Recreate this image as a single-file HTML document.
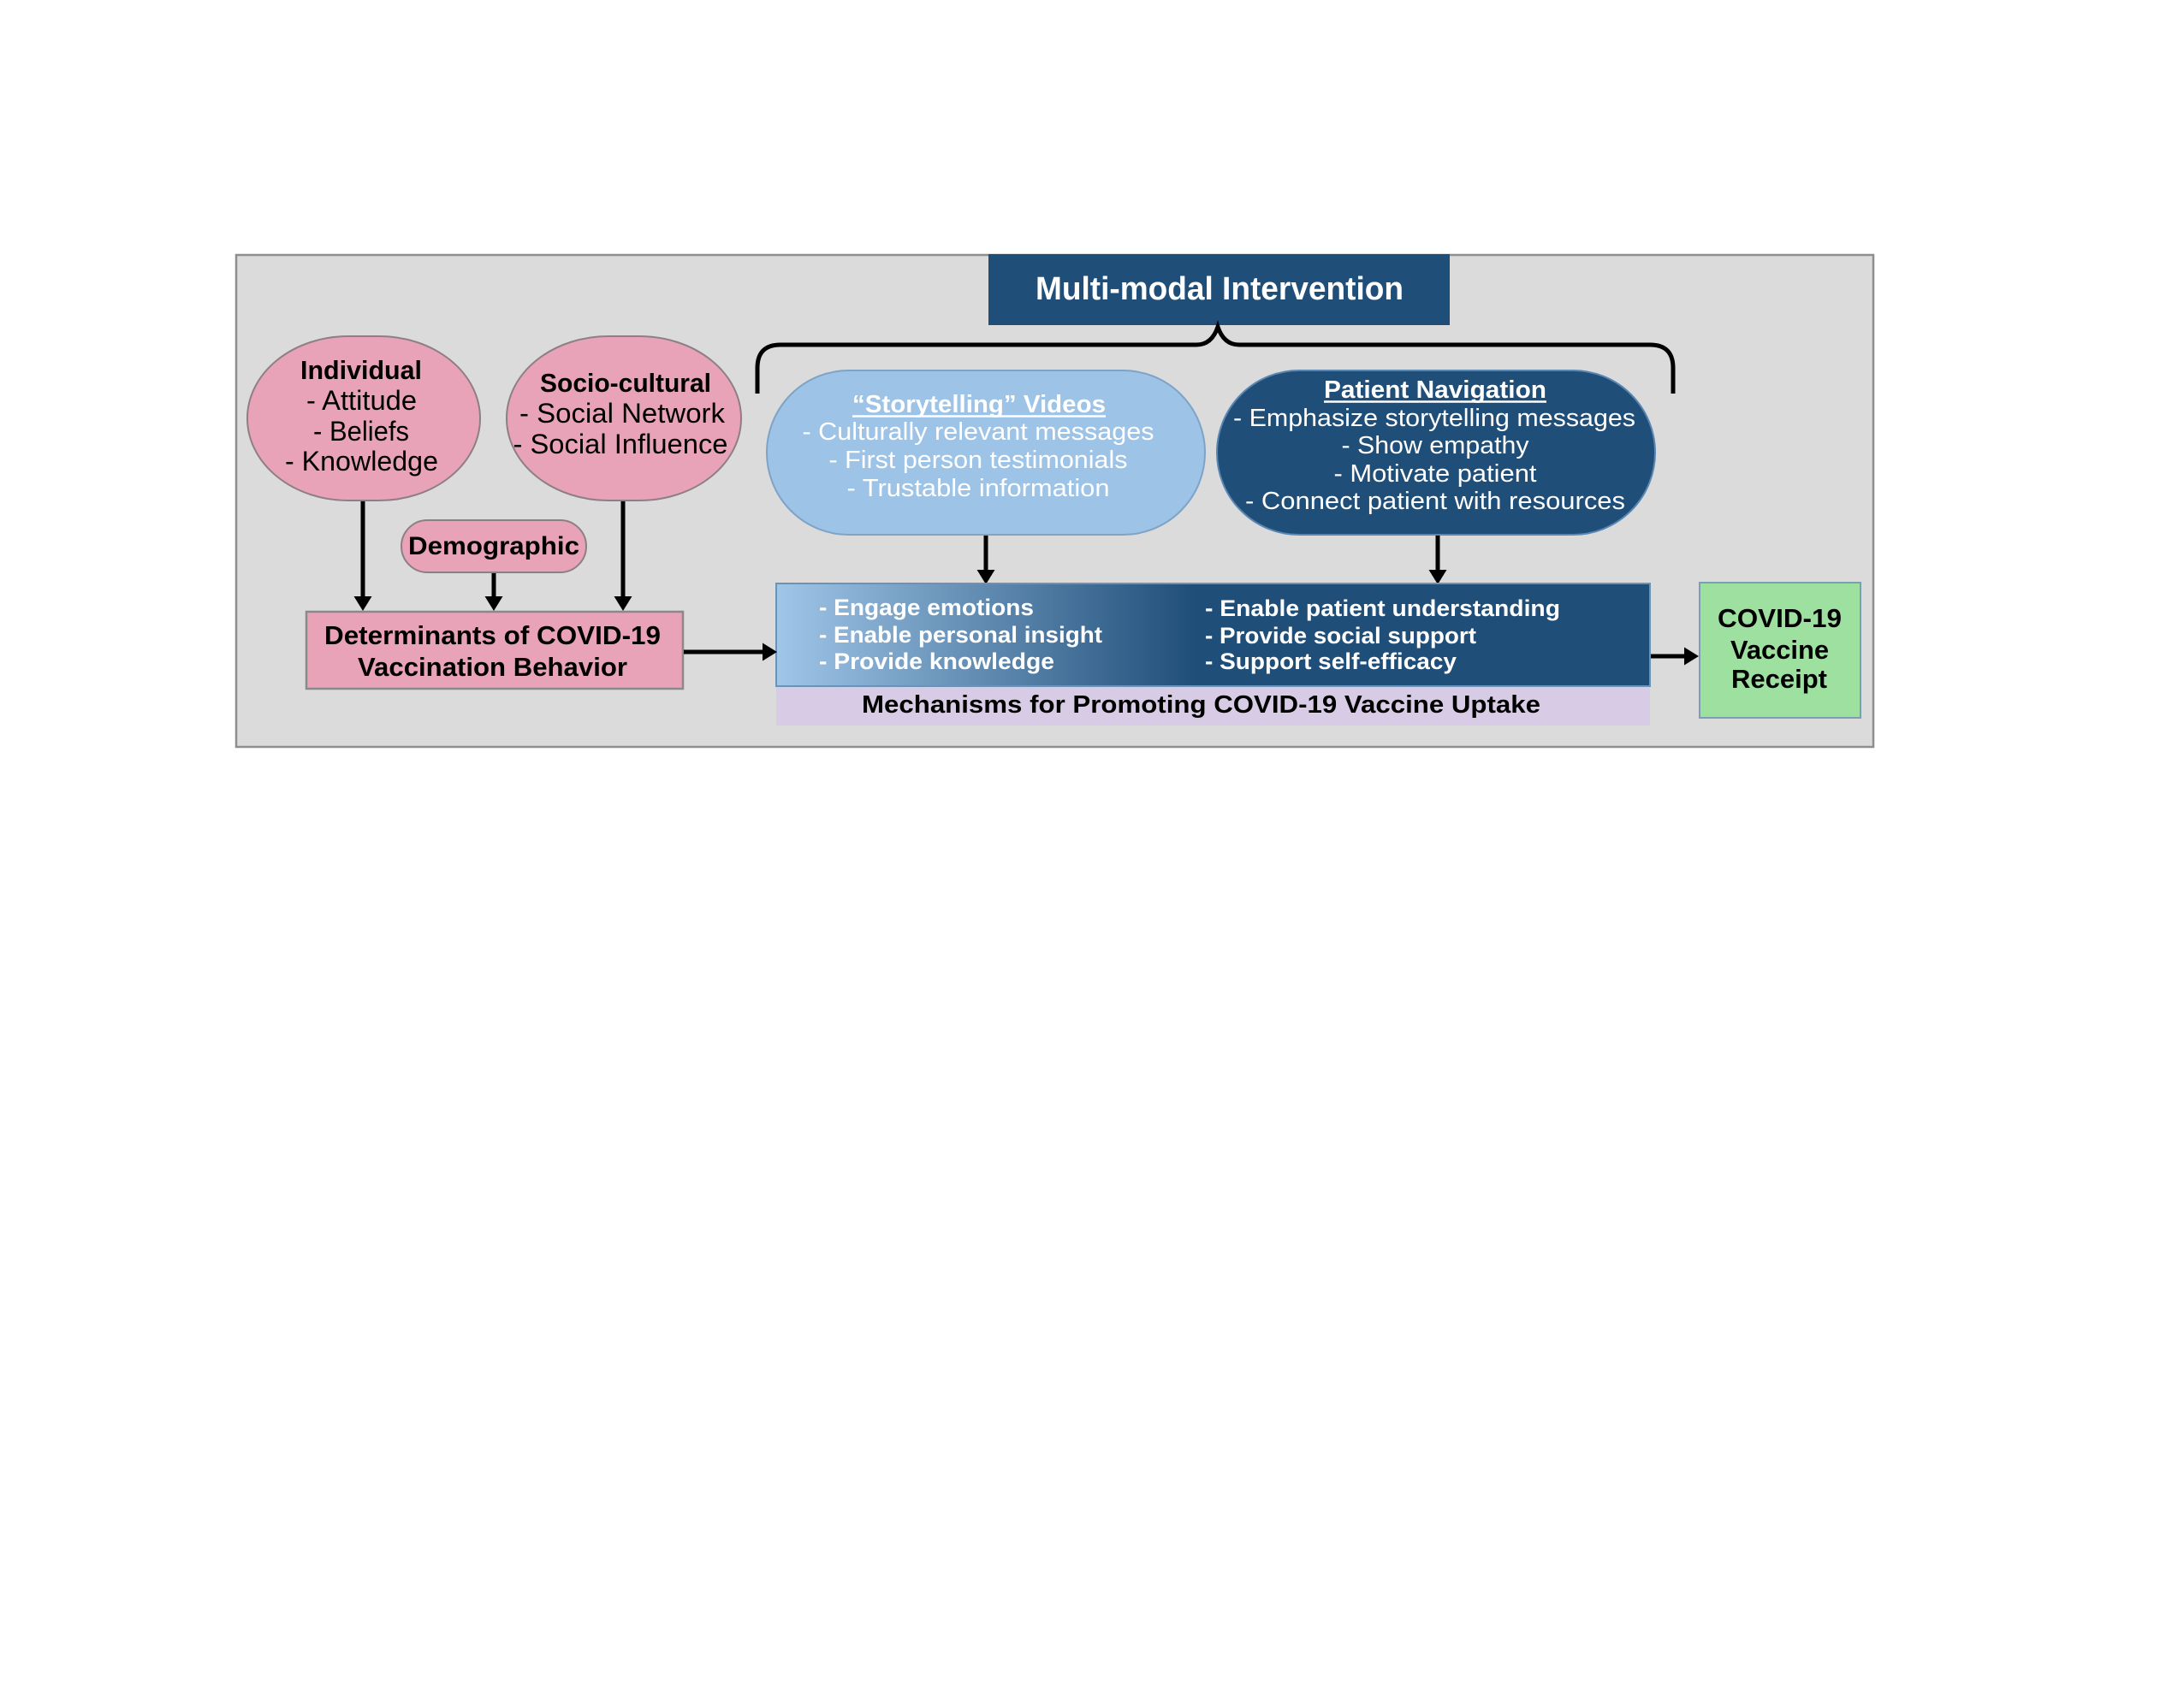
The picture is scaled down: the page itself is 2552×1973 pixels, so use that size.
<!DOCTYPE html>
<html>
<head>
<meta charset="utf-8">
<style>
  html,body{margin:0;padding:0;background:#ffffff;}
  body{width:2552px;height:1973px;overflow:hidden;position:relative;}
  svg{position:absolute;left:0;top:0;}
  text{font-family:"Liberation Sans", Arial, sans-serif;}
</style>
</head>
<body>
<svg width="2552" height="1973" viewBox="0 0 2552 1973" xmlns="http://www.w3.org/2000/svg">
  <defs>
    <linearGradient id="mech" x1="907" y1="0" x2="1928" y2="0" gradientUnits="userSpaceOnUse">
      <stop offset="0" stop-color="#a0c6e8"/>
      <stop offset="0.48" stop-color="#1f4e79"/>
      <stop offset="1" stop-color="#1f4e79"/>
    </linearGradient>
  </defs>

  <!-- outer panel -->
  <rect x="276" y="298" width="1913" height="575" fill="#dbdbdb" stroke="#8e8e8e" stroke-width="2.5"/>

  <!-- title box -->
  <rect x="1155" y="297" width="539" height="83" fill="#1f4e79"/>
  <text x="1425" y="350" font-size="38" font-weight="bold" fill="#ffffff" text-anchor="middle" textLength="430" lengthAdjust="spacingAndGlyphs">Multi-modal Intervention</text>

  <!-- brace -->
  <path d="M 885 460 V 430 Q 885 403 912 403 H 1398 Q 1416 403 1423 382 Q 1430 403 1448 403 H 1928 Q 1955 403 1955 430 V 460" fill="none" stroke="#000000" stroke-width="5"/>

  <!-- Individual -->
  <rect x="289" y="393" width="272" height="192" rx="118" ry="96" fill="#e8a3b8" stroke="#8d7f85" stroke-width="2"/>
  <text x="422" y="443" font-size="31" font-weight="bold" fill="#000" text-anchor="middle" textLength="142" lengthAdjust="spacingAndGlyphs">Individual</text>
  <text x="422.5" y="479" font-size="32" fill="#000" text-anchor="middle" textLength="129" lengthAdjust="spacingAndGlyphs">- Attitude</text>
  <text x="422" y="515" font-size="32" fill="#000" text-anchor="middle" textLength="112" lengthAdjust="spacingAndGlyphs">- Beliefs</text>
  <text x="422.5" y="550" font-size="32" fill="#000" text-anchor="middle" textLength="179" lengthAdjust="spacingAndGlyphs">- Knowledge</text>

  <!-- Socio-cultural -->
  <rect x="592" y="393" width="274" height="192" rx="119" ry="96" fill="#e8a3b8" stroke="#8d7f85" stroke-width="2"/>
  <text x="731" y="458" font-size="31" font-weight="bold" fill="#000" text-anchor="middle" textLength="200" lengthAdjust="spacingAndGlyphs">Socio-cultural</text>
  <text x="727" y="494" font-size="32" fill="#000" text-anchor="middle" textLength="240" lengthAdjust="spacingAndGlyphs">- Social Network</text>
  <text x="725" y="530" font-size="32" fill="#000" text-anchor="middle" textLength="251" lengthAdjust="spacingAndGlyphs">- Social Influence</text>

  <!-- Demographic -->
  <rect x="469" y="608" width="216" height="61" rx="30.5" ry="30.5" fill="#e8a3b8" stroke="#8d7f85" stroke-width="2"/>
  <text x="577" y="648" font-size="30" font-weight="bold" fill="#000" text-anchor="middle" textLength="200" lengthAdjust="spacingAndGlyphs">Demographic</text>

  <!-- Determinants -->
  <rect x="358" y="715" width="440" height="90" fill="#e8a3b8" stroke="#8a8a8a" stroke-width="2.5"/>
  <text x="575.5" y="753" font-size="31" font-weight="bold" fill="#000" text-anchor="middle" textLength="393" lengthAdjust="spacingAndGlyphs">Determinants of COVID-19</text>
  <text x="575.5" y="790" font-size="31" font-weight="bold" fill="#000" text-anchor="middle" textLength="315" lengthAdjust="spacingAndGlyphs">Vaccination Behavior</text>

  <!-- vertical arrows into Determinants -->
  <line x1="424" y1="586" x2="424" y2="699" stroke="#000" stroke-width="5"/>
  <polygon points="413.5,697 434.5,697 424,714" fill="#000"/>
  <line x1="577" y1="670" x2="577" y2="699" stroke="#000" stroke-width="5"/>
  <polygon points="566.5,697 587.5,697 577,714" fill="#000"/>
  <line x1="728" y1="586" x2="728" y2="699" stroke="#000" stroke-width="5"/>
  <polygon points="717.5,697 738.5,697 728,714" fill="#000"/>

  <!-- Storytelling pill -->
  <rect x="896" y="433" width="512" height="192" rx="96" ry="96" fill="#9dc3e6" stroke="#7ea3c6" stroke-width="2"/>
  <text x="1144" y="482" font-size="29" font-weight="bold" fill="#ffffff" text-anchor="middle" textLength="296" lengthAdjust="spacingAndGlyphs">“Storytelling” Videos</text>
  <line x1="996" y1="486.5" x2="1292" y2="486.5" stroke="#ffffff" stroke-width="2.5"/>
  <text x="1143" y="514" font-size="29" fill="#ffffff" text-anchor="middle" textLength="411" lengthAdjust="spacingAndGlyphs">- Culturally relevant messages</text>
  <text x="1143" y="547" font-size="29" fill="#ffffff" text-anchor="middle" textLength="349" lengthAdjust="spacingAndGlyphs">- First person testimonials</text>
  <text x="1143" y="580" font-size="29" fill="#ffffff" text-anchor="middle" textLength="307" lengthAdjust="spacingAndGlyphs">- Trustable information</text>

  <!-- Patient Navigation pill -->
  <rect x="1422" y="433" width="512" height="192" rx="96" ry="96" fill="#1f4e79" stroke="#5a86b2" stroke-width="2"/>
  <text x="1677" y="465" font-size="29" font-weight="bold" fill="#ffffff" text-anchor="middle" textLength="260" lengthAdjust="spacingAndGlyphs">Patient Navigation</text>
  <line x1="1547" y1="469.5" x2="1807" y2="469.5" stroke="#ffffff" stroke-width="2.5"/>
  <text x="1676" y="498" font-size="29" fill="#ffffff" text-anchor="middle" textLength="470" lengthAdjust="spacingAndGlyphs">- Emphasize storytelling messages</text>
  <text x="1677" y="530" font-size="29" fill="#ffffff" text-anchor="middle" textLength="219" lengthAdjust="spacingAndGlyphs">- Show empathy</text>
  <text x="1677" y="563" font-size="29" fill="#ffffff" text-anchor="middle" textLength="237" lengthAdjust="spacingAndGlyphs">- Motivate patient</text>
  <text x="1677" y="595" font-size="29" fill="#ffffff" text-anchor="middle" textLength="444" lengthAdjust="spacingAndGlyphs">- Connect patient with resources</text>

  <!-- arrows into mechanisms -->
  <line x1="1152" y1="626" x2="1152" y2="668" stroke="#000" stroke-width="5"/>
  <polygon points="1141.5,666 1162.5,666 1152,683" fill="#000"/>
  <line x1="1680" y1="626" x2="1680" y2="668" stroke="#000" stroke-width="5"/>
  <polygon points="1669.5,666 1690.5,666 1680,683" fill="#000"/>

  <!-- Mechanisms box -->
  <rect x="907" y="802" width="1021" height="46" fill="#d8cbe5"/>
  <rect x="907" y="682" width="1021" height="120" fill="url(#mech)" stroke="#6d92b8" stroke-width="2"/>
  <text x="957" y="719" font-size="27" font-weight="bold" fill="#ffffff" textLength="251" lengthAdjust="spacingAndGlyphs">- Engage emotions</text>
  <text x="957" y="751" font-size="27" font-weight="bold" fill="#ffffff" textLength="331" lengthAdjust="spacingAndGlyphs">- Enable personal insight</text>
  <text x="957" y="782" font-size="27" font-weight="bold" fill="#ffffff" textLength="275" lengthAdjust="spacingAndGlyphs">- Provide knowledge</text>
  <text x="1408" y="720" font-size="27" font-weight="bold" fill="#ffffff" textLength="415" lengthAdjust="spacingAndGlyphs">- Enable patient understanding</text>
  <text x="1408" y="752" font-size="27" font-weight="bold" fill="#ffffff" textLength="317" lengthAdjust="spacingAndGlyphs">- Provide social support</text>
  <text x="1408" y="782" font-size="27" font-weight="bold" fill="#ffffff" textLength="294" lengthAdjust="spacingAndGlyphs">- Support self-efficacy</text>
  <text x="1007" y="833" font-size="29" font-weight="bold" fill="#000" textLength="793" lengthAdjust="spacingAndGlyphs">Mechanisms for Promoting COVID-19 Vaccine Uptake</text>

  <!-- horizontal arrows -->
  <line x1="799" y1="762" x2="893" y2="762" stroke="#000" stroke-width="5"/>
  <polygon points="891,751.5 891,772.5 908,762" fill="#000"/>
  <line x1="1929" y1="767" x2="1970" y2="767" stroke="#000" stroke-width="5"/>
  <polygon points="1968,756.5 1968,777.5 1985,767" fill="#000"/>

  <!-- Receipt box -->
  <rect x="1986" y="681" width="188" height="158" fill="#9ee09f" stroke="#7a9fb4" stroke-width="2"/>
  <text x="2079.5" y="733" font-size="31" font-weight="bold" fill="#000" text-anchor="middle" textLength="145" lengthAdjust="spacingAndGlyphs">COVID-19</text>
  <text x="2079.5" y="770" font-size="31" font-weight="bold" fill="#000" text-anchor="middle" textLength="115" lengthAdjust="spacingAndGlyphs">Vaccine</text>
  <text x="2079" y="804" font-size="31" font-weight="bold" fill="#000" text-anchor="middle" textLength="112" lengthAdjust="spacingAndGlyphs">Receipt</text>
</svg>
</body>
</html>
